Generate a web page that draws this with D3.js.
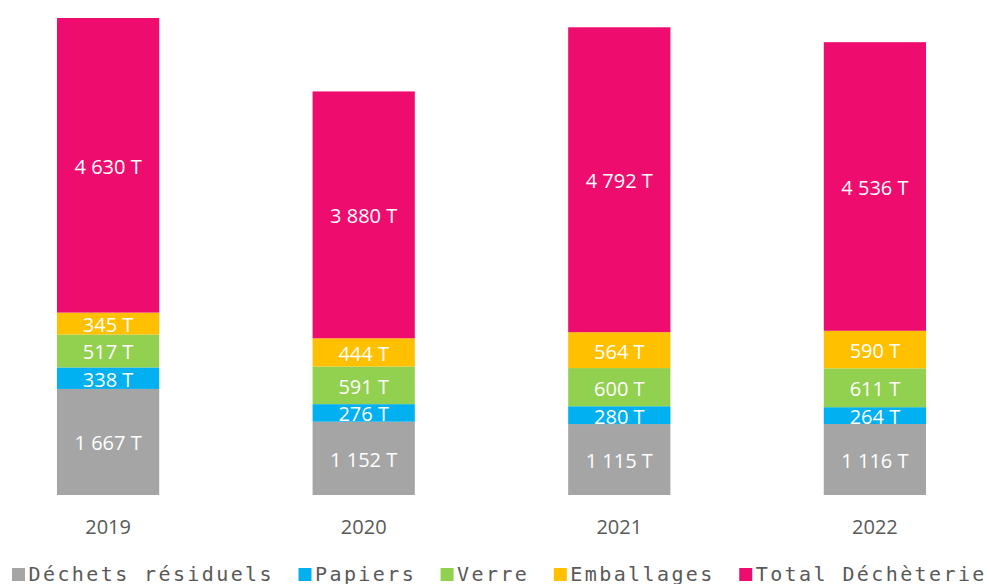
<!DOCTYPE html>
<html><head><meta charset="utf-8">
<script src="https://cdn.jsdelivr.net/npm/d3@7"></script>
<style>
html,body{margin:0;padding:0;background:#fff;}
svg{display:block;}
</style></head>
<body>
<svg id="chart" width="989" height="584"></svg>
<script>
const years = ["2019", "2020", "2021", "2022"];
const seriesNames = ["Déchets résiduels", "Papiers", "Verre", "Emballages", "Total Déchèterie"];
const seriesColors = ["#A5A5A5", "#00B0F0", "#92D050", "#FFC000", "#EE0C6E"];
const dechetsResiduels = [1667, 1152, 1115, 1116];
const papiers = [338, 276, 280, 264];
const verre = [517, 591, 600, 611];
const emballages = [345, 444, 564, 590];
const totalDecheterie = [4630, 3880, 4792, 4536];

const seriesValues = [dechetsResiduels, papiers, verre, emballages, totalDecheterie];
const rows = years.map((y, i) => {
  const r = {year: y};
  seriesNames.forEach((s, k) => r[s] = seriesValues[k][i]);
  return r;
});
const stacked = d3.stack().keys(seriesNames)(rows);

const svg = d3.select("#chart");
const x = d3.scaleBand().domain(years).range([-19.7, 1002.7]).paddingInner(0.6).paddingOuter(0.3);
const y = d3.scaleLinear().domain([0, 7497]).range([495, 18]);

const loc = d3.formatLocale({decimal: ",", thousands: "\u00a0", grouping: [3], currency: ["", ""]});
const fmt = loc.format(",d");

const g = svg.append("g");
stacked.forEach((layer, k) => {
  const lg = g.append("g");
  lg.selectAll("rect").data(layer).join("rect")
    .attr("x", d => x(d.data.year))
    .attr("width", x.bandwidth())
    .attr("y", d => y(d[1]))
    .attr("height", d => y(d[0]) - y(d[1]))
    .attr("fill", seriesColors[k]);
  lg.selectAll("text").data(layer).join("text")
    .attr("x", d => x(d.data.year) + x.bandwidth() / 2)
    .attr("y", d => (y(d[0]) + y(d[1])) / 2 + 1)
    .attr("text-anchor", "middle")
    .attr("dominant-baseline", "central")
    .attr("fill", "#fff")
    .style("font-family", "'Open Sans', sans-serif")
    .style("font-size", "20px")
    .text(d => fmt(d[1] - d[0]) + " T");
});

// x axis labels
const axis = d3.axisBottom(x).tickSize(0).tickPadding(0);
const ax = svg.append("g").attr("transform", "translate(0,495)").call(axis);
ax.select(".domain").remove();
ax.selectAll("text")
  .attr("dy", null)
  .attr("y", 39)
  .attr("fill", "#595959")
  .style("font-family", "'Open Sans', sans-serif")
  .style("font-size", "20px");

// legend
const leg = svg.append("g");
let lx = 12;
seriesNames.forEach((s, k) => {
  leg.append("rect").attr("x", lx).attr("y", 568).attr("width", 13).attr("height", 13).attr("fill", seriesColors[k]);
  const t = leg.append("text").attr("x", lx + 16.5).attr("y", 581)
    .attr("fill", "#595959")
    .style("font-family", "'DejaVu Sans Mono', monospace")
    .style("font-size", "20px")
    .style("letter-spacing", "2.4px")
    .text(s);
  lx = lx + 16.5 + t.node().getComputedTextLength() + 24.5;
});
</script>
</body></html>
